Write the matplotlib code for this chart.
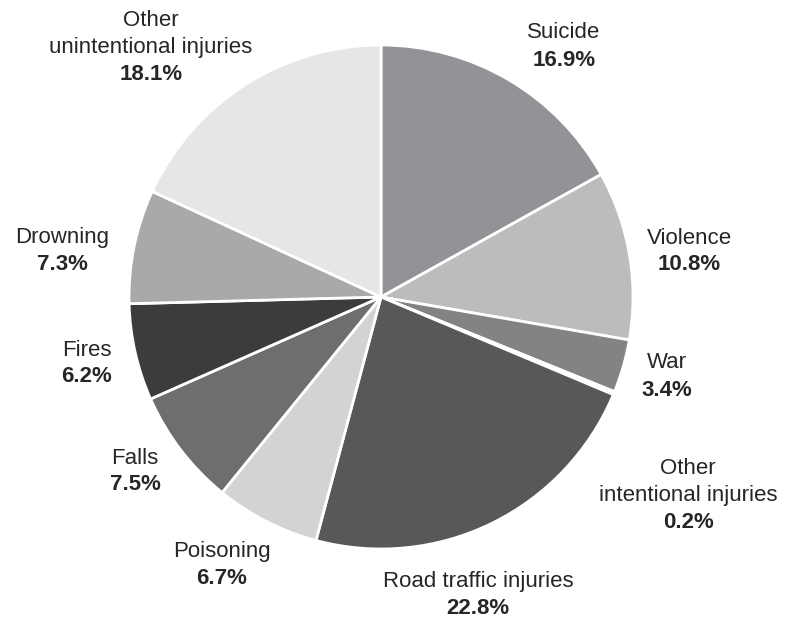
import matplotlib.pyplot as plt

plt.rcParams['font.family'] = ['Liberation Sans', 'DejaVu Sans']

# data, clockwise from 12 o'clock
categories = ["Suicide", "Violence", "War", "Other\nintentional injuries",
              "Road traffic injuries", "Poisoning", "Falls", "Fires",
              "Drowning", "Other\nunintentional injuries"]
shares = [16.9, 10.8, 3.4, 0.2, 22.8, 6.7, 7.5, 6.2, 7.3, 18.1]
greys = ["#939397", "#bcbcbe", "#838386", "#ffffff", "#58585a",
         "#d2d3d5", "#6e6e71", "#3c3c3d", "#a9a9ac", "#e6e6e6"]

# label anchors (pixel coords from top-left: centre x, first line y)
label_xy = [(564, 33), (689, 238), (667, 363), (688, 468), (478, 581),
            (222, 552), (135, 458), (87, 350), (62, 238), (151, 20)]

W, H = 787, 619
fig = plt.figure(figsize=(W / 100, H / 100), dpi=100)
ax = fig.add_axes([0, 0, 1, 1])

ax.pie(shares, colors=greys, startangle=90, counterclock=False,
       center=(381, H - 297), radius=252,
       wedgeprops=dict(edgecolor="white", linewidth=2))
ax.set_xlim(0, W)
ax.set_ylim(0, H)
ax.set_aspect("equal")
ax.axis("off")

step = 27
for name, val, (x, y) in zip(categories, shares, label_xy):
    lines = name.split("\n")
    for i, line in enumerate(lines):
        ax.text(x, H - (y + i * step), line, ha="center", va="center",
                fontsize=16, color="#262626")
    ax.text(x, H - (y + len(lines) * step), f"{val}%", ha="center",
            va="center", fontsize=16, fontweight="bold", color="#262626")

fig.savefig("out.png", dpi=100)
